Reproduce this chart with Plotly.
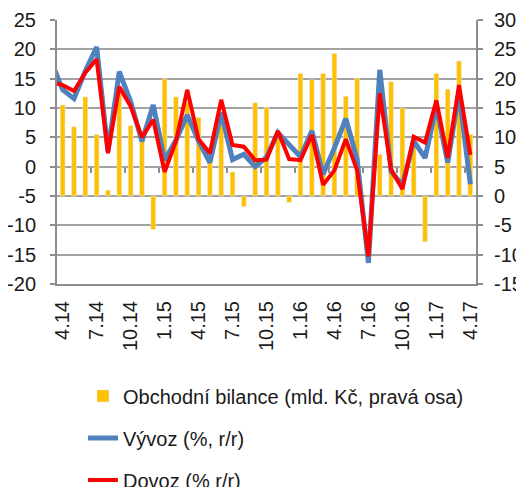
import plotly.graph_objects as go

# monthly data, 3.14 is only there so the lines run into the left edge like in excel
months = ["3.14", "4.14", "5.14", "6.14", "7.14", "8.14", "9.14", "10.14", "11.14", "12.14",
          "1.15", "2.15", "3.15", "4.15", "5.15", "6.15", "7.15", "8.15", "9.15", "10.15",
          "11.15", "12.15", "1.16", "2.16", "3.16", "4.16", "5.16", "6.16", "7.16", "8.16",
          "9.16", "10.16", "11.16", "12.16", "1.17", "2.17", "3.17", "4.17"]

# Vyvoz (%, r/r) - left axis
vyvoz = [17.9, 13.1, 11.6, 16.3, 20.4, 2.6, 16.2, 11.1, 4.3, 10.5,
         1.1, 4.5, 8.8, 4.4, 0.7, 9.2, 1.2, 2.1, 0.0, 1.6,
         5.8, 3.7, 1.7, 6.1, -1.3, 3.2, 8.2, 1.3, -16.4, 16.5,
         -0.8, -3.2, 4.4, 1.5, 10.3, 0.7, 12.6, -3.0]

# Dovoz (% r/r) - left axis
dovoz = [14.4, 13.9, 12.9, 16.0, 18.3, 2.3, 13.6, 10.3, 5.0, 8.0,
         -0.9, 4.3, 13.1, 4.7, 2.3, 11.4, 3.7, 3.4, 1.1, 1.2,
         6.1, 1.3, 1.1, 5.4, -3.1, -0.6, 4.7, -0.6, -15.3, 12.5,
         -0.5, -3.8, 5.1, 4.1, 11.3, 1.5, 13.9, 2.0]

# Obchodni bilance (mld. Kc) - right axis
bilance = [None, 15.5, 11.8, 16.9, 10.5, 1.0, 17.5, 12.0, 9.5, -5.7,
           20.0, 16.9, 16.0, 13.4, 6.5, 13.5, 4.1, -1.8, 15.9, 15.1,
           10.5, -1.1, 20.9, 19.8, 20.9, 24.3, 17.0, 20.1, 0.2, 7.1,
           19.5, 15.0, 10.0, -7.8, 20.9, 18.2, 23.0, 10.5]

# axis ticks, written with a plain hyphen like excel does
left_ticks = [-20, -15, -10, -5, 0, 5, 10, 15, 20, 25]
right_ticks = [-15, -10, -5, 0, 5, 10, 15, 20, 25, 30]

x = list(range(len(months)))
label_pos = x[1::3]
label_txt = months[1::3]
# small tick marks sit between the quarters
tick_marks = [p + 2.5 for p in label_pos[:-1]]

FONT = "Liberation Sans, Arial, sans-serif"
GRID = "#A3A3A3"
AXIS = "#8C8C8C"

fig = go.Figure()
fig.add_trace(go.Bar(x=x, y=bilance, width=0.42, marker_color="#FFC000",
                     name="Obchodní bilance (mld. Kč, pravá osa)",
                     legendgroup="a", yaxis="y"))
fig.add_trace(go.Scatter(x=x, y=vyvoz, mode="lines", name="Vývoz (%, r/r)",
                         line=dict(color="#4F81BD", width=5),
                         legendgroup="b", yaxis="y2"))
fig.add_trace(go.Scatter(x=x, y=dovoz, mode="lines", name="Dovoz (% r/r)",
                         line=dict(color="#FF0000", width=4),
                         legendgroup="c", yaxis="y2"))
# carries the axis with the tick marks on the zero line
fig.add_trace(go.Scatter(x=[None], y=[None], xaxis="x2", yaxis="y",
                         showlegend=False, hoverinfo="skip"))

# page body has an 8px margin, size and margins below make up for it
fig.update_layout(
    width=516, height=479,
    margin=dict(l=49, r=48, t=12, b=203, autoexpand=False),
    paper_bgcolor="white", plot_bgcolor="white",
    font=dict(family=FONT, size=20, color="#1a1a1a"),
    showlegend=True,
    legend=dict(orientation="v", x=0.062, xanchor="left", y=-0.35, yanchor="top",
                traceorder="grouped", tracegroupgap=13,
                font=dict(size=20), bgcolor="rgba(0,0,0,0)"),
    xaxis=dict(range=[0.5, len(months) - 0.5], tickvals=label_pos, ticktext=label_txt,
               tickangle=-90, ticks="", showgrid=False, zeroline=False,
               showline=True, linecolor=AXIS, linewidth=2, ticklabelstandoff=7),
    xaxis2=dict(overlaying="x", anchor="free", position=20 / 45, side="bottom",
                range=[0.5, len(months) - 0.5], tickvals=tick_marks,
                showticklabels=False, ticks="outside", ticklen=5, tickwidth=2,
                tickcolor=AXIS, showgrid=False, zeroline=False, showline=False),
    yaxis=dict(side="right", range=[-15, 30], tickvals=right_ticks,
               ticktext=[str(v) for v in right_ticks], showgrid=True,
               gridcolor=GRID, gridwidth=2, zeroline=False,
               showline=True, linecolor=AXIS, linewidth=2,
               ticks="outside", ticklen=5, tickcolor=AXIS, tickwidth=2,
               ticklabelstandoff=7),
    yaxis2=dict(side="left", overlaying="y", range=[-20, 25], tickvals=left_ticks,
                ticktext=[str(v) for v in left_ticks],
                showgrid=False, zeroline=False,
                showline=True, linecolor=AXIS, linewidth=2,
                ticks="outside", ticklen=5, tickcolor=AXIS, tickwidth=2,
                ticklabelstandoff=10),
    bargap=0.5,
)

fig.write_html("out.html")
